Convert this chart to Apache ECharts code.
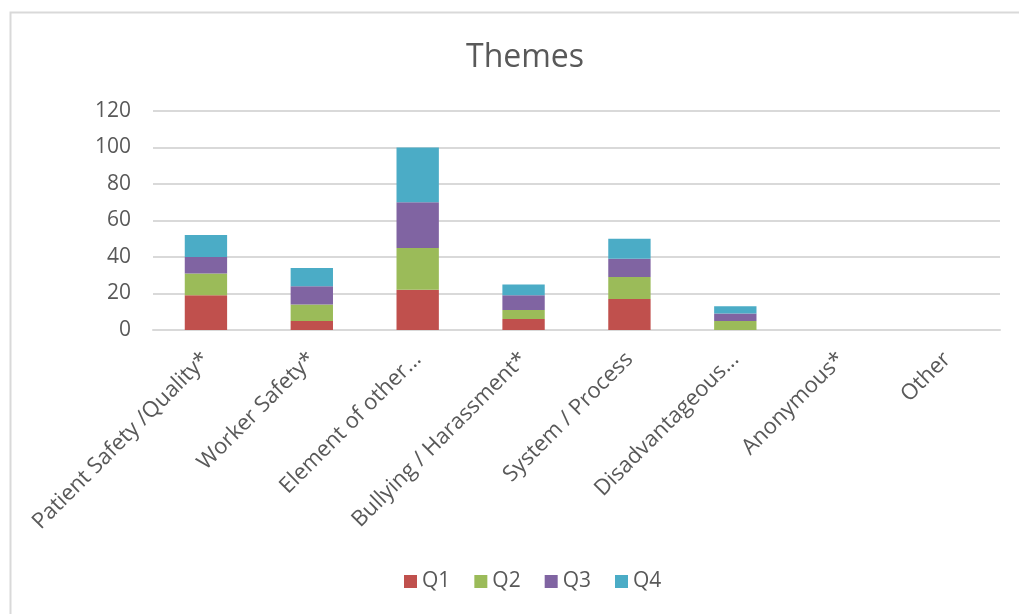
<!DOCTYPE html>
<html>
<head>
<meta charset="utf-8">
<style>
  html, body { margin: 0; padding: 0; background: #ffffff; }
  #chart { width: 1019px; height: 614px; }
</style>
<script src="https://cdn.jsdelivr.net/npm/echarts@6/dist/echarts.min.js"></script>
</head>
<body>
<div id="chart"></div>
<script>
// Theme categories (x axis)
const categories = [
  'Patient Safety /Quality*',
  'Worker Safety*',
  'Element of other...',
  'Bullying / Harassment*',
  'System / Process',
  'Disadvantageous...',
  'Anonymous*',
  'Other'
];

// Quarterly counts per theme
const q1 = [19, 5, 22, 6, 17, 0, 0, 0];
const q2 = [12, 9, 23, 5, 12, 5, 0, 0];
const q3 = [9, 10, 25, 8, 10, 4, 0, 0];
const q4 = [12, 10, 30, 6, 11, 4, 0, 0];

const seriesNames = ['Q1', 'Q2', 'Q3', 'Q4'];
const seriesColors = ['#C0504D', '#9BBB59', '#8064A2', '#4BACC6'];
const seriesData = [q1, q2, q3, q4];

// Value axis ticks
const yTicks = [0, 20, 40, 60, 80, 100, 120];

const textColor = '#595959';
const font = '"Open Sans", "Noto Sans", sans-serif';

const chart = echarts.init(document.getElementById('chart'));

chart.setOption({
  animation: false,
  backgroundColor: '#ffffff',
  graphic: [{
    type: 'rect',
    left: 8,
    top: 10,
    shape: { width: 1040, height: 640 },
    style: { fill: 'none', stroke: '#d9d9d9', lineWidth: 2 },
    silent: true,
    z: -1
  }],
  title: {
    text: 'Themes',
    left: 461,
    top: 37,
    textStyle: { color: textColor, fontSize: 32, fontWeight: 'normal', fontFamily: font }
  },
  legend: {
    data: seriesNames,
    bottom: 17,
    left: 399,
    itemWidth: 13,
    itemHeight: 13,
    itemGap: 24,
    icon: 'rect',
    textStyle: { color: textColor, fontSize: 21, fontFamily: font }
  },
  grid: {
    left: 153,
    right: 19,
    top: 111,
    bottom: 284,
    containLabel: false
  },
  xAxis: {
    type: 'category',
    data: categories,
    axisTick: { show: false },
    axisLine: { show: true, lineStyle: { color: '#d9d9d9', width: 2 } },
    axisLabel: {
      rotate: 45,
      interval: 0,
      color: textColor,
      fontSize: 22,
      fontFamily: font,
      margin: 26
    }
  },
  yAxis: {
    type: 'value',
    min: yTicks[0],
    max: yTicks[yTicks.length - 1],
    interval: 20,
    axisLine: { show: false },
    axisTick: { show: false },
    splitLine: { lineStyle: { color: '#d9d9d9', width: 2 } },
    axisLabel: { color: textColor, fontSize: 21, fontFamily: font, margin: 22 }
  },
  series: seriesNames.map((name, i) => ({
    name: name,
    type: 'bar',
    stack: 'total',
    barWidth: '40%',
    data: seriesData[i],
    itemStyle: { color: seriesColors[i] }
  }))
});
</script>
</body>
</html>
